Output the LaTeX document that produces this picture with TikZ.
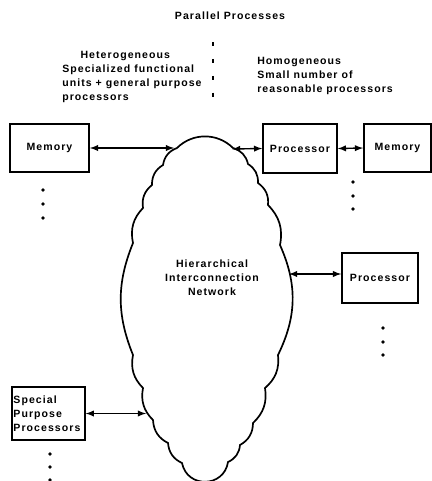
\documentclass[tikz,border=0pt]{standalone}
\usepackage{fontspec}
\setmainfont{Liberation Sans}
\newfontfamily\diagfont[LetterSpace=10]{Liberation Sans}
\usetikzlibrary{arrows}

\begin{document}
\begin{tikzpicture}
    [
      x=0.025cm, y=-0.025cm,
      every node/.style={font=\diagfont\bfseries\fontsize{7.5}{10}\selectfont},
      box/.style={draw=black,line width=1.2pt,rectangle,inner sep=1pt},
      link/.style={latex-latex,line width=1pt,draw=black},
      cloudline/.style={line width=1.2pt,draw=black},
      label/.style={align=left,inner sep=0pt,anchor=north west}
    ]
    \useasboundingbox (0,0) rectangle (432,481);

    \node at (230,16) (title) {Parallel Processes};

    \node at (62,51) [label] (hetero) {
      \hspace*{13pt}Heterogeneous\\Specialized functional\\
      units + general purpose\\processors
    };
    \node at (257,57) [label] (homo) {
      Homogeneous\\Small number of\\reasonable processors
    };

    \coordinate (sepTop) at (213,42);
    \coordinate (sepBot) at (213,100);
    \draw [line width=1.2pt,dash pattern=on 2.8pt off 9.2pt] (sepTop) -- (sepBot);

    % the network cloud
    \draw [cloudline] (177,148) to [bend left=45] (233,148)
      to [bend left=30] (248,164) to [bend left=30] (258,183)
      to [bend left=30] (268,205) to [bend left=28] (280,245)
      to [bend left=25] (278,355) to [bend left=28] (265,388)
      to [bend left=28] (253,423) to [bend left=30] (240,445)
      to [bend left=30] (228,462) to [bend left=80,looseness=1.45] (182,463)
      to [bend left=30] (168,443) to [bend left=30] (153,420)
      to [bend left=28] (143,388) to [bend left=28] (133,355)
      to [bend left=22] (133,243) to [bend left=28] (143,208)
      to [bend left=30] (152,185) to [bend left=30] (163,165)
      to [bend left=30] (177,148);
    \node at (212,278) [align=center] (network) {
      Hierarchical\\Interconnection\\Network
    };
    \coordinate (netNW) at (174,148);
    \coordinate (netNE) at (232,149);
    \coordinate (netE) at (289,274);
    \coordinate (netW) at (146,413.5);

    \node at (49.5,148) [box,minimum width=1.98cm,minimum height=1.2cm] (memL) {Memory};
    \node at (300,148.5) [box,minimum width=1.85cm,minimum height=1.23cm] (procT) {Processor};
    \node at (397.5,148) [box,minimum width=1.68cm,minimum height=1.2cm] (memR) {Memory};
    \node at (380,278) [box,minimum width=1.9cm,minimum height=1.25cm] (procR) {Processor};
    \node at (48.5,413.5) [box,minimum height=1.33cm,align=left,text width=1.75cm]
      (special) {Special\\Purpose\\Processors};

    \draw [link] (memL.east) -- (netNW);
    \draw [link] (netNE) -- (procT.west);
    \draw [link] (procT.east) -- (memR.west);
    \draw [link] (netE) -- (netE -| procR.west);
    \draw [link] (special.east) -- (netW);

    % more of the same
    \fill (43,190) circle (1.3pt) (43,204) circle (1.3pt) (43,218) circle (1.3pt);
    \fill (353,182) circle (1.3pt) (353,196) circle (1.3pt) (353,209) circle (1.3pt);
    \fill (383,328) circle (1.3pt) (383,342) circle (1.3pt) (383,355) circle (1.3pt);
    \fill (50,454) circle (1.3pt) (50,467) circle (1.3pt) (50,480) circle (1.3pt);
  \end{tikzpicture}
\end{document}
